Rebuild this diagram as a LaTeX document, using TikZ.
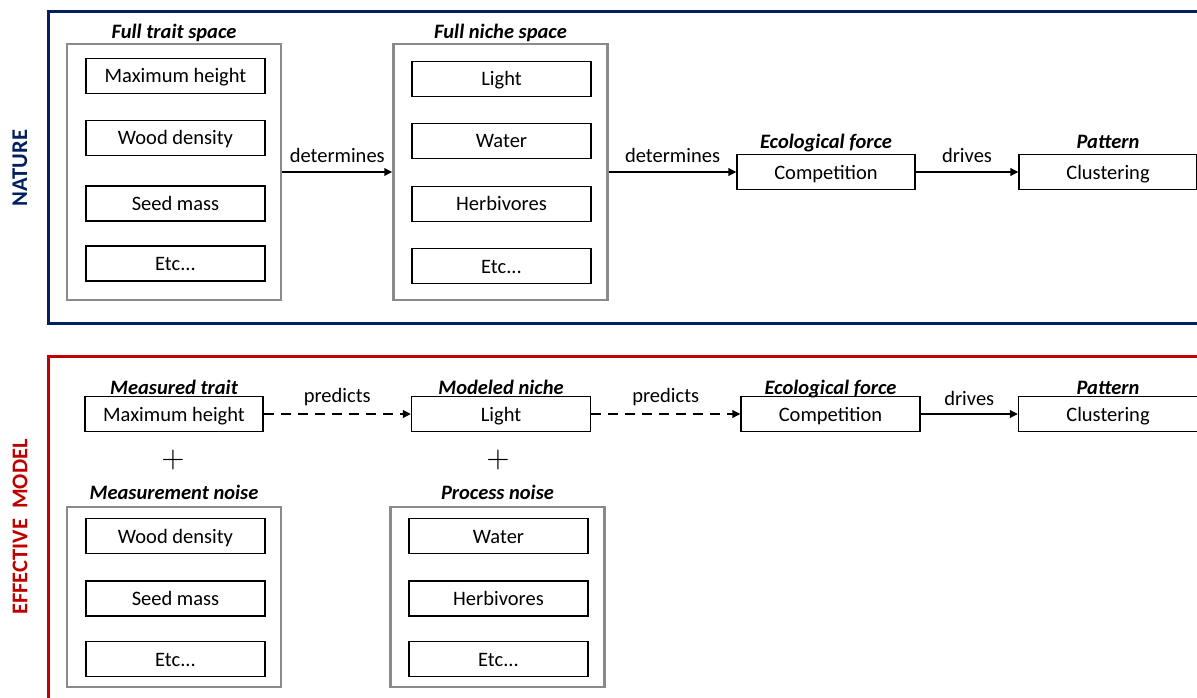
\documentclass[tikz,border=0pt]{standalone}
\usepackage{fontspec}
\setmainfont{Carlito}
\newfontfamily\plusfont{lmroman10-regular.otf}
\usetikzlibrary{positioning,arrows.meta}
\definecolor{natureblue}{HTML}{002060}
\definecolor{modelred}{HTML}{C00000}
\definecolor{groupgrey}{HTML}{8A8A8A}
\tikzset{
  item/.style={draw=black,line width=1.2pt,minimum width=179pt,minimum height=35pt,inner sep=0pt,text height=18pt,text depth=4pt,font=\fontsize{20.5}{24}\selectfont},
  group/.style={draw=groupgrey,line width=2.5pt,minimum width=214pt,minimum height=#1},
  heading/.style={inner sep=0pt,text depth=2.5pt,font=\fontsize{20.5}{24}\selectfont\bfseries\itshape},
  verb/.style={inner sep=0pt,anchor=base,font=\fontsize{20.5}{24}\selectfont},
  link/.style={line width=2.9pt,-{Triangle[length=8pt,width=7.5pt]}},
  guess/.style={link,dash pattern=on 10pt off 7pt},
  side/.style={rotate=90,inner sep=0pt,font=\fontsize{22.5}{26}\selectfont\bfseries},
  plus/.style={inner sep=0pt,font=\plusfont\fontsize{30}{30}\selectfont},
}
\begin{document}
\begin{tikzpicture}[x=1pt,y=-1pt]
  \path[use as bounding box,clip] (0,0) rectangle (1197,698);
  \draw[natureblue,line width=3pt] (48,12) rectangle (1240,323);
  \draw[modelred,line width=3pt] (48,356) rectangle (1240,740);
  \node[side,text=natureblue] (naturelabel) at (20,168) {NATURE};
  \node[side,text=modelred] (modellabel) at (20,527) {EFFECTIVE\ \ MODEL};

  \node[group=256pt] (trait) at (174,172) {};
  \node[heading,above=2pt of trait] (traithead) {Full trait space};
  \node[item] (t1) at (175.5,76) {Maximum height};
  \node[item] (t2) at (175.5,138) {Wood density};
  \node[item] (t3) at (175.5,203.5) {Seed mass};
  \node[item] (t4) at (175.5,263.5) {Etc...};
  \node[group=256pt] (niche) at (500.5,172) {};
  \node[heading,above=2pt of niche] (nichehead) {Full niche space};
  \node[item] (n1) at (501.5,79) {Light};
  \node[item] (n2) at (501.5,141) {Water};
  \node[item] (n3) at (501.5,204) {Herbivores};
  \node[item] (n4) at (501.5,266) {Etc...};
  \node[item,minimum width=178pt] (forceA) at (826,172) {Competition};
  \node[heading,above=3pt of forceA] (forceAhead) {Ecological force};
  \node[item,minimum width=178pt] (patternA) at (1108,172) {Clustering};
  \node[heading,above=3pt of patternA] (patternAhead) {Pattern};
  \draw[link] (trait) -- node[verb,yshift=9pt] {determines} (niche);
  \draw[link] (niche) -- node[verb,yshift=9pt] {determines} (forceA);
  \draw[link] (forceA) -- node[verb,yshift=9pt] {drives} (patternA);

  \node[item,minimum width=178pt] (mtrait) at (174,414) {Maximum height};
  \node[heading,above=-1pt of mtrait] (mtraithead) {Measured trait};
  \node[item] (mniche) at (501,414) {Light};
  \node[heading,above=-1pt of mniche] (mnichehead) {Modeled niche};
  \node[item] (forceB) at (830.5,414) {Competition};
  \node[heading,above=-1pt of forceB] (forceBhead) {Ecological force};
  \node[item] (patternB) at (1108,414) {Clustering};
  \node[heading,above=-1pt of patternB] (patternBhead) {Pattern};
  \draw[guess] (mtrait) -- node[verb,yshift=12pt] {predicts} (mniche);
  \draw[guess] (mniche) -- node[verb,yshift=12pt] {predicts} (forceB);
  \draw[link] (forceB) -- node[verb,yshift=9pt] {drives} (patternB);
  \node[plus] (plusA) at (173,460) {+};
  \node[plus] (plusB) at (498,460) {+};

  \node[group=180pt] (mnoise) at (174,597) {};
  \node[heading,above=4pt of mnoise] (mnoisehead) {Measurement noise};
  \node[item] (m1) at (175.5,536) {Wood density};
  \node[item] (m2) at (175.5,598.5) {Seed mass};
  \node[item] (m3) at (175.5,659) {Etc...};
  \node[group=180pt] (pnoise) at (497.5,597) {};
  \node[heading,above=4pt of pnoise] (pnoisehead) {Process noise};
  \node[item] (p1) at (498.5,536) {Water};
  \node[item] (p2) at (498.5,598.5) {Herbivores};
  \node[item] (p3) at (498.5,659) {Etc...};
\end{tikzpicture}
\end{document}
